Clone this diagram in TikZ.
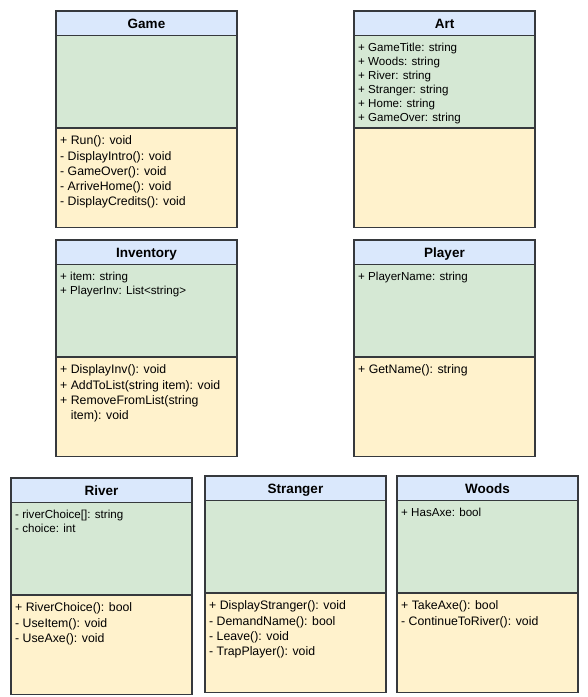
\documentclass[tikz,border=0pt]{standalone}
\usepackage{fontspec}
\setmainfont{Liberation Sans}
\definecolor{hdr}{HTML}{DAE8FC}
\definecolor{attrc}{HTML}{D5E8D4}
\definecolor{methc}{HTML}{FFF2CC}
\definecolor{edgec}{HTML}{36393D}
\tikzset{
  sect/.style={draw=edgec, line width=1.2pt},
  classtitle/.style={font=\fontsize{13.5}{16}\selectfont\bfseries, inner sep=0, anchor=base},
  attrtext/.style={font=\fontsize{11.6}{14}\selectfont, anchor=base west, inner sep=0},
  methtext/.style={font=\fontsize{12.3}{15}\selectfont, anchor=base west, inner sep=0},
}
\newcommand{\umlbox}[6]{%
  \fill[hdr] (#2,#3) rectangle ++(181,24.5);
  \fill[attrc] ({#2},{#3+24.5}) rectangle ++(181,92.5);
  \fill[methc] ({#2},{#3+117}) rectangle ++(181,99.5);
  \draw[sect] ({#2},{#3+24.5}) -- ++(181,0);
  \draw[sect] ({#2},{#3+117}) -- ++(181,0);
  \draw[sect] (#2,#3) rectangle ++(181,216.5);
  \node[classtitle] (#1-title) at ({#2+90.5},{#3+17}) {#4};
  \if\relax\detokenize{#5}\relax\else
    \foreach \t [count=\i] in {#5}
      \node[attrtext] (#1-a\i) at ({#2+4},{#3+40.5+14*(\i-1)}) {\t};
  \fi
  \if\relax\detokenize{#6}\relax\else
    \foreach \t [count=\i] in {#6}
      \node[methtext] (#1-m\i) at ({#2+4},{#3+133.8+15.2*(\i-1)}) {\t};
  \fi
}
\begin{document}
\begin{tikzpicture}[x=1pt,y=-1pt]
\useasboundingbox (0,0) rectangle (588,697);
\umlbox{game}{56}{11}{Game}{}{{+ Run(): void},{- DisplayIntro(): void},{- GameOver(): void},{- ArriveHome(): void},{- DisplayCredits(): void}}
\umlbox{art}{354}{11}{Art}{{+ GameTitle: string},{+ Woods: string},{+ River: string},{+ Stranger: string},{+ Home: string},{+ GameOver: string}}{}
\umlbox{inv}{56}{240}{Inventory}{{+ item: string},{+ PlayerInv: List<string>}}{{+ DisplayInv(): void},{+ AddToList(string item): void},{+ RemoveFromList(string},{\hphantom{+ }item): void}}
\umlbox{player}{354}{240}{Player}{{+ PlayerName: string}}{{+ GetName(): string}}
\umlbox{river}{11}{478}{River}{{- riverChoice[]: string},{- choice: int}}{{+ RiverChoice(): bool},{- UseItem(): void},{- UseAxe(): void}}
\umlbox{stranger}{205}{476}{Stranger}{}{{+ DisplayStranger(): void},{- DemandName(): bool},{- Leave(): void},{- TrapPlayer(): void}}
\umlbox{woods}{397}{476}{Woods}{{+ HasAxe: bool}}{{+ TakeAxe(): bool},{- ContinueToRiver(): void}}
\end{tikzpicture}
\end{document}
